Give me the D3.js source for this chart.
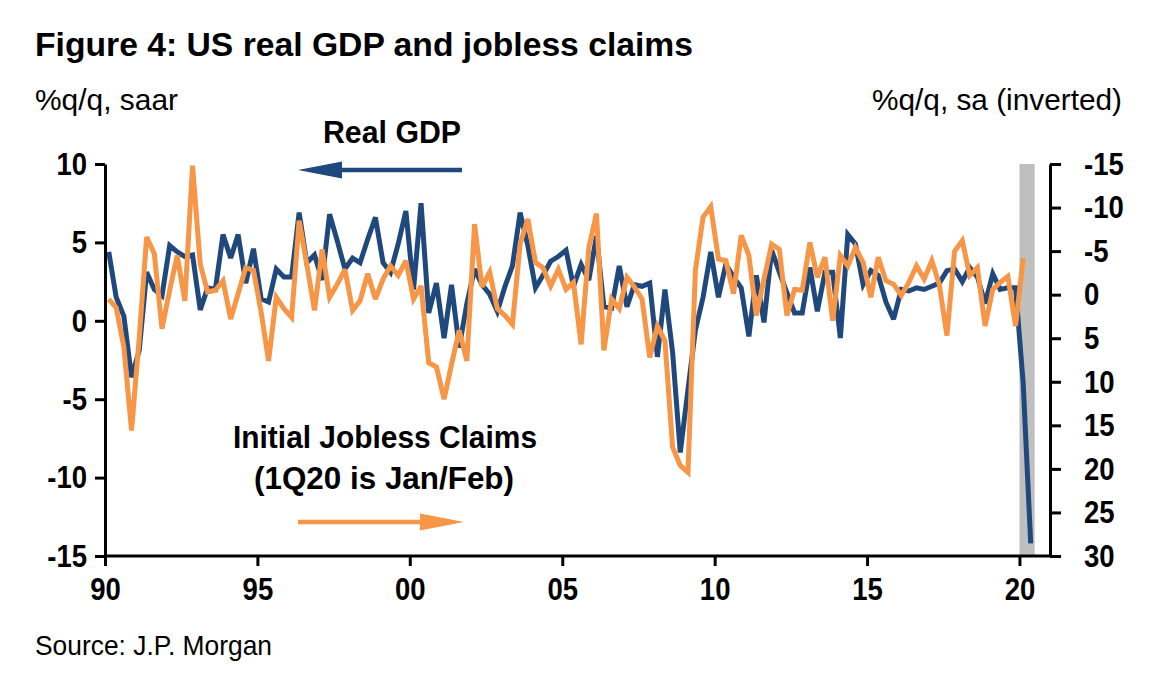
<!DOCTYPE html>
<html><head><meta charset="utf-8">
<script src="https://cdn.jsdelivr.net/npm/d3@7/dist/d3.min.js"></script>
<style>
html,body{margin:0;padding:0;background:#fff;}
svg text{font-family:"Liberation Sans",Arial,sans-serif;fill:#000;}
</style></head>
<body><svg id="c" width="1158" height="679"></svg>
<script>
// ---- data (quarterly, from 1990Q1) ----
const startYear = 1990;
const gdp = [4.4,1.5,0.3,-3.6, -1.9,3.1,2.0,1.6, 4.8,4.4,4.1,4.2, 0.7,2.1,2.0,5.5,
  4.0,5.5,2.4,4.6, 1.4,1.2,3.3,2.8, 2.8,6.9,3.7,4.2, 2.6,6.8,5.1,3.3,
  4.0,3.7,5.2,6.6, 3.7,3.1,4.9,7.0, 2.0,7.5,0.5,2.4, -1.1,2.3,-1.7,1.1,
  3.3,2.3,1.7,0.6, 2.2,3.5,6.9,4.8, 2.1,2.9,3.8,4.1, 4.5,2.2,3.6,2.6,
  5.4,0.9,0.8,3.5, 0.9,2.3,2.2,2.4, -2.3,2.0,-2.0,-8.4, -4.4,-0.6,1.5,4.4,
  1.5,3.6,2.8,2.1, -1.0,2.9,-0.1,4.5, 3.1,1.8,0.5,0.5, 3.4,0.6,3.1,3.1,
  -1.1,5.5,4.9,2.3, 3.2,2.9,1.2,0.1, 2.0,1.9,2.1,2.0, 2.2,2.4,3.2,3.3,
  2.5,3.4,2.8,1.1, 3.0,2.0,2.1,2.1, -4.0,-14.2];
const claims = [0.5,1.5,6.0,15.6, 5.0,-6.6,-4.7,3.9, -0.5,-4.5,0.7,-14.8, -3.5,-0.3,-0.5,-1.6,
  2.8,-0.1,-3.1,-2.8, 2.0,7.6,0.3,1.6, 2.6,-8.5,-3.5,1.8, -5.2,0.3,-1.2,-2.9,
  1.8,0.7,-2.4,0.5, -1.8,-3.3,-2.2,-3.9, 0.5,-1.0,7.8,8.3, 12.0,8.0,4.1,7.6,
  -8.1,-0.9,-2.6,1.6, 2.4,3.4,-5.8,-8.7, -3.7,-3.1,-1.0,-2.9, -0.6,-1.4,5.7,-5.4,
  -9.3,6.4,0.5,1.6, -2.0,-0.9,0.5,7.2, 3.6,5.3,17.5,19.6, 20.4,-2.8,-8.9,-10.1,
  -4.1,-3.9,-0.1,-6.8, -4.5,2.4,-1.8,-5.8, -5.2,2.4,-0.6,-0.5, -6.0,-2.0,-4.3,3.0,
  -4.5,-3.3,-5.4,-3.7, 0.3,-4.3,-1.6,-1.2, 0.1,-1.4,-3.3,-1.8, -3.9,-1.2,4.7,-5.0,
  -6.2,-2.2,-3.1,3.6, -0.6,-1.4,-2.1,3.6, -4.2];
const xTickYears = [1990,1995,2000,2005,2010,2015,2020];
const xTickLabels = ["90","95","00","05","10","15","20"];
const leftTicks = [10,5,0,-5,-10,-15];
const rightTicks = [-15,-10,-5,0,5,10,15,20,25,30];
const shadeRange = [new Date(2020,0,1), new Date(2020,6,1)];

const qDate = i => new Date(startYear + Math.floor(i/4), (i%4)*3 + 1, 15);

// ---- layout ----
const svg = d3.select("#c");
const L = 105, R = 1050, T = 164, B = 556;
const BLUE = "#1F497D", ORANGE = "#F79646";

const x = d3.scaleTime().domain([new Date(1990,0,1), new Date(2021,0,1)]).range([L, R]);
const yL = d3.scaleLinear().domain([-15,10]).range([B, T]);
const yR = d3.scaleLinear().domain([-15,30]).range([T, B]);

function squeeze(sel, k){
  sel.each(function(){
    const w = this.getComputedTextLength();
    d3.select(this).attr("textLength", w*k).attr("lengthAdjust","spacingAndGlyphs");
  });
}
function fitW(sel, w){ sel.attr("textLength", w).attr("lengthAdjust","spacingAndGlyphs"); }

// shaded band
svg.append("rect").attr("x", x(shadeRange[0])).attr("y", T)
  .attr("width", x(shadeRange[1]) - x(shadeRange[0])).attr("height", B - T)
  .attr("fill", "#BFBFBF");

// lines
const lineG = d3.line().x((d,i)=>x(qDate(i))).y(d=>yL(d));
const lineC = d3.line().x((d,i)=>x(qDate(i))).y(d=>yR(d));
svg.append("path").datum(gdp).attr("d", lineG).attr("fill","none")
  .attr("stroke", BLUE).attr("stroke-width", 5).attr("stroke-linejoin","miter").attr("stroke-miterlimit",3);
svg.append("path").datum(claims).attr("d", lineC).attr("fill","none")
  .attr("stroke", ORANGE).attr("stroke-width", 5).attr("stroke-linejoin","miter").attr("stroke-miterlimit",3);

// axes
const fmt = d => String(d);
const axL = svg.append("g").attr("transform", `translate(${L},0)`)
  .call(d3.axisLeft(yL).tickValues(leftTicks).tickSize(10).tickPadding(8).tickSizeOuter(0).tickFormat(fmt));
const axR = svg.append("g").attr("transform", `translate(${R},0)`)
  .call(d3.axisRight(yR).tickValues(rightTicks).tickSize(11).tickPadding(23).tickSizeOuter(0).tickFormat(fmt));
const axB = svg.append("g").attr("transform", `translate(0,${B})`)
  .call(d3.axisBottom(x).tickValues(xTickYears.map(yr=>new Date(yr,0,1))).tickSize(10).tickPadding(11).tickSizeOuter(0)
    .tickFormat((d,i)=>xTickLabels[i]));
[axL, axR, axB].forEach(g=>{
  g.select(".domain").attr("stroke","#000").attr("stroke-width",3);
  g.selectAll(".tick line").attr("stroke","#000").attr("stroke-width",3);
  g.selectAll("text").attr("font-size",32).attr("font-weight","bold")
    .style("font-family","Liberation Sans, Arial, sans-serif").attr("fill","#000");
});
axB.select(".domain").attr("d", `M${L},0H${R}`);
axB.selectAll("text").attr("dy","0.71em");
squeeze(axL.selectAll("text"), 0.86);
squeeze(axR.selectAll("text"), 0.86);
squeeze(axB.selectAll("text"), 0.86);

// titles and texts
const t1 = svg.append("text").attr("x",35).attr("y",56).attr("font-size",34).attr("font-weight","bold")
  .text("Figure 4: US real GDP and jobless claims"); fitW(t1, 658);
const t2 = svg.append("text").attr("x",35).attr("y",110).attr("font-size",30)
  .text("%q/q, saar"); fitW(t2, 143);
const t3 = svg.append("text").attr("x",1122).attr("y",110).attr("font-size",30).attr("text-anchor","end")
  .text("%q/q, sa (inverted)"); fitW(t3, 250);
const t4 = svg.append("text").attr("x",392).attr("y",143).attr("font-size",32).attr("font-weight","bold").attr("text-anchor","middle")
  .text("Real GDP"); fitW(t4, 138);
const t5 = svg.append("text").attr("x",385).attr("y",448).attr("font-size",32).attr("font-weight","bold").attr("text-anchor","middle")
  .text("Initial Jobless Claims"); fitW(t5, 304);
const t6 = svg.append("text").attr("x",384).attr("y",489).attr("font-size",32).attr("font-weight","bold").attr("text-anchor","middle")
  .text("(1Q20 is Jan/Feb)"); fitW(t6, 260);
const t7 = svg.append("text").attr("x",35).attr("y",655).attr("font-size",28)
  .text("Source: J.P. Morgan"); fitW(t7, 237);

// arrows
svg.append("line").attr("x1",462).attr("x2",338).attr("y1",170).attr("y2",170).attr("stroke",BLUE).attr("stroke-width",4.7);
svg.append("path").attr("d","M298,170L342,161.5L342,178.5Z").attr("fill",BLUE);
svg.append("line").attr("x1",298).attr("x2",425).attr("y1",522).attr("y2",522).attr("stroke",ORANGE).attr("stroke-width",4.7);
svg.append("path").attr("d","M464,522L420,513.5L420,530.5Z").attr("fill",ORANGE);
</script></body></html>
